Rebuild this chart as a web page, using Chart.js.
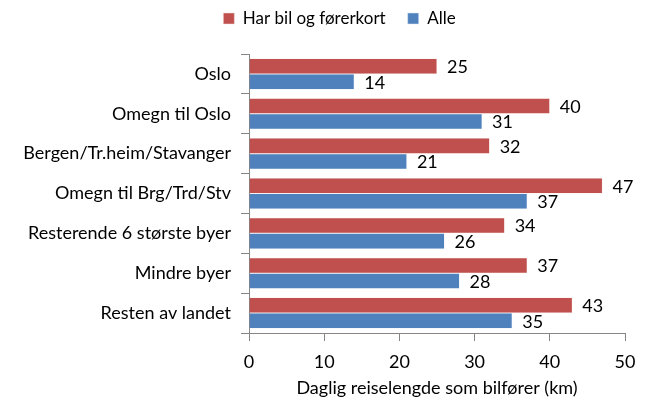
<!DOCTYPE html>
<html>
<head>
<meta charset="utf-8">
<script src="https://cdn.jsdelivr.net/npm/chart.js@4.4.0/dist/chart.umd.min.js"></script>
<style>
  html, body { margin: 0; padding: 0; background: #fff; }
  #wrap { width: 648px; height: 403px; }
</style>
</head>
<body>
<div id="wrap"><canvas id="reiseChart"></canvas></div>
<script>
const categories = ['Oslo', 'Omegn til Oslo', 'Bergen/Tr.heim/Stavanger', 'Omegn til Brg/Trd/Stv',
    'Resterende 6 største byer', 'Mindre byer', 'Resten av landet'];
const harBil = [25, 40, 32, 47, 34, 37, 43];
const alle = [14, 31, 21, 37, 26, 28, 35];
const xTicks = [0, 10, 20, 30, 40, 50];

const FONT = "Lato, 'Liberation Sans', sans-serif";

// labels at the end of each bar
const barLabels = {
    id: 'barLabels',
    afterDatasetsDraw(chart) {
        const ctx = chart.ctx;
        ctx.save();
        ctx.font = '18px ' + FONT;
        ctx.fillStyle = '#000';
        ctx.textBaseline = 'middle';
        ctx.textAlign = 'left';
        chart.data.datasets.forEach((ds, i) => {
            chart.getDatasetMeta(i).data.forEach((bar, j) => {
                ctx.fillText(ds.data[j], bar.x + 10, bar.y + 1);
            });
        });
        ctx.restore();
    }
};

// push the plot down below the legend, and nudge the legend right
const legendGap = {
    id: 'legendGap',
    beforeInit(chart) {
        const fit = chart.legend.fit;
        chart.legend.fit = function () {
            fit.call(this);
            this.height += 17;
        };
    },
    afterLayout(chart) {
        chart.legend.left += 27;
        chart.legend.right += 27;
    }
};

new Chart(document.getElementById('reiseChart').getContext('2d'), {
    type: 'bar',
    data: {
        labels: categories,
        datasets: [{
            label: 'Har bil og førerkort',
            data: harBil,
            backgroundColor: '#C0504D',
            borderColor: '#F2DCDB',
            borderWidth: 0.5,
            categoryPercentage: 0.78,
            barPercentage: 1
        }, {
            label: 'Alle',
            data: alle,
            backgroundColor: '#4F81BD',
            borderColor: '#DCE6F2',
            borderWidth: 0.5,
            categoryPercentage: 0.78,
            barPercentage: 1
        }]
    },
    options: {
        indexAxis: 'y',
        responsive: true,
        maintainAspectRatio: false,
        animation: false,
        layout: { padding: { left: 0, right: 23, top: -12, bottom: 7 } },
        plugins: {
            legend: {
                position: 'top',
                labels: {
                    boxWidth: 11,
                    boxHeight: 11,
                    padding: 22,
                    color: '#000',
                    font: { family: FONT, size: 17 }
                }
            },
            tooltip: { enabled: false }
        },
        scales: {
            x: {
                min: 0,
                max: 50,
                afterBuildTicks(scale) {
                    scale.ticks = xTicks.map(v => ({ value: v }));
                },
                afterFit(scale) { scale.height = 63; },
                grid: {
                    drawOnChartArea: false,
                    drawTicks: true,
                    tickLength: 8,
                    color: '#868686'
                },
                border: { color: '#868686', width: 1 },
                ticks: {
                    color: '#000',
                    padding: 10,
                    font: { family: FONT, size: 18 }
                },
                title: {
                    display: true,
                    text: 'Daglig reiselengde som bilfører (km)',
                    color: '#000',
                    padding: { top: 2, bottom: -3 },
                    font: { family: FONT, size: 18 }
                }
            },
            y: {
                afterFit(scale) { scale.width = 249; },
                grid: {
                    offset: true,
                    drawOnChartArea: false,
                    tickLength: 8,
                    color: '#868686'
                },
                border: { color: '#868686', width: 1 },
                ticks: {
                    color: '#000',
                    padding: 10,
                    font: { family: FONT, size: 18 }
                }
            }
        }
    },
    plugins: [barLabels, legendGap]
});
</script>
</body>
</html>
